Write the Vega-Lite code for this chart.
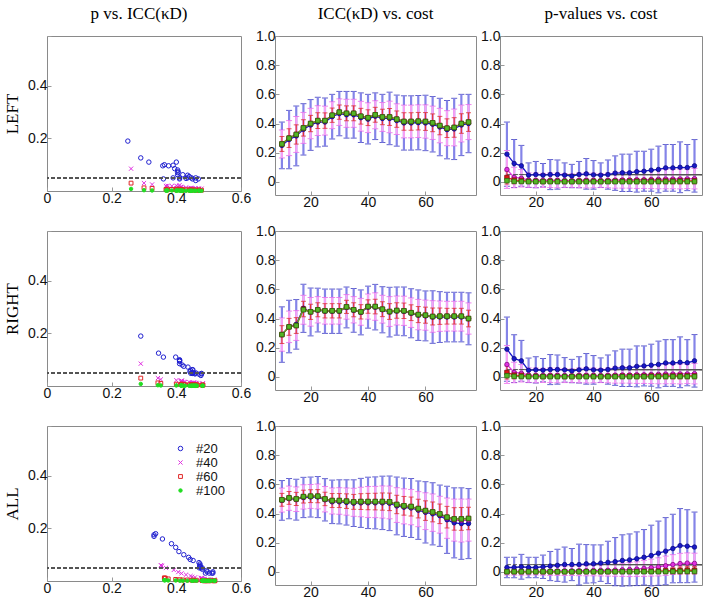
{
"$schema": "https://vega.github.io/schema/vega-lite/v6.json",
"padding": {"left": 3, "top": 4, "right": 0, "bottom": 0},
"background": "white",
"columns": 3,
"align": "each",
"spacing": {"row": 13, "column": 3},
"resolve": {"scale": {"color": "independent", "fill": "independent", "shape": "independent", "size": "independent", "stroke": "independent"}},
"data": {"values": [
{"r":"L","n":20,"c":10,"i":0.25,"ie":0.16,"p":0.19,"pe":0.22},
{"r":"L","n":20,"c":12.5,"i":0.29,"ie":0.2,"p":0.126,"pe":0.164},
{"r":"L","n":20,"c":15,"i":0.315,"ie":0.205,"p":0.11,"pe":0.14},
{"r":"L","n":20,"c":17.5,"i":0.36,"ie":0.176,"p":0.046,"pe":0.084},
{"r":"L","n":20,"c":20,"i":0.39,"ie":0.174,"p":0.05,"pe":0.09},
{"r":"L","n":20,"c":22.5,"i":0.41,"ie":0.17,"p":0.046,"pe":0.08},
{"r":"L","n":20,"c":25,"i":0.41,"ie":0.165,"p":0.05,"pe":0.103},
{"r":"L","n":20,"c":27.5,"i":0.447,"ie":0.153,"p":0.05,"pe":0.1},
{"r":"L","n":20,"c":30,"i":0.468,"ie":0.152,"p":0.046,"pe":0.084},
{"r":"L","n":20,"c":32.5,"i":0.46,"ie":0.16,"p":0.04,"pe":0.08},
{"r":"L","n":20,"c":35,"i":0.46,"ie":0.16,"p":0.05,"pe":0.09},
{"r":"L","n":20,"c":37.5,"i":0.44,"ie":0.17,"p":0.055,"pe":0.105},
{"r":"L","n":20,"c":40,"i":0.43,"ie":0.17,"p":0.048,"pe":0.098},
{"r":"L","n":20,"c":42.5,"i":0.45,"ie":0.16,"p":0.046,"pe":0.084},
{"r":"L","n":20,"c":45,"i":0.435,"ie":0.165,"p":0.05,"pe":0.1},
{"r":"L","n":20,"c":47.5,"i":0.435,"ie":0.18,"p":0.06,"pe":0.118},
{"r":"L","n":20,"c":50,"i":0.42,"ie":0.175,"p":0.062,"pe":0.128},
{"r":"L","n":20,"c":52.5,"i":0.404,"ie":0.186,"p":0.062,"pe":0.128},
{"r":"L","n":20,"c":55,"i":0.404,"ie":0.186,"p":0.07,"pe":0.14},
{"r":"L","n":20,"c":57.5,"i":0.406,"ie":0.186,"p":0.073,"pe":0.137},
{"r":"L","n":20,"c":60,"i":0.404,"ie":0.19,"p":0.08,"pe":0.144},
{"r":"L","n":20,"c":62.5,"i":0.395,"ie":0.19,"p":0.085,"pe":0.16},
{"r":"L","n":20,"c":65,"i":0.376,"ie":0.197,"p":0.096,"pe":0.16},
{"r":"L","n":20,"c":67.5,"i":0.358,"ie":0.2,"p":0.096,"pe":0.16},
{"r":"L","n":20,"c":70,"i":0.363,"ie":0.21,"p":0.1,"pe":0.174},
{"r":"L","n":20,"c":72.5,"i":0.39,"ie":0.21,"p":0.098,"pe":0.158},
{"r":"L","n":20,"c":75,"i":0.4,"ie":0.2,"p":0.11,"pe":0.18},
{"r":"L","n":40,"c":10,"i":0.26,"ie":0.096,"p":0.085,"pe":0.13},
{"r":"L","n":40,"c":12.5,"i":0.3,"ie":0.12,"p":0.03,"pe":0.07},
{"r":"L","n":40,"c":15,"i":0.325,"ie":0.123,"p":0.025,"pe":0.06},
{"r":"L","n":40,"c":17.5,"i":0.37,"ie":0.106,"p":0.012,"pe":0.05},
{"r":"L","n":40,"c":20,"i":0.4,"ie":0.104,"p":0.01,"pe":0.05},
{"r":"L","n":40,"c":22.5,"i":0.42,"ie":0.102,"p":0.01,"pe":0.048},
{"r":"L","n":40,"c":25,"i":0.42,"ie":0.099,"p":0.011,"pe":0.05},
{"r":"L","n":40,"c":27.5,"i":0.457,"ie":0.092,"p":0.01,"pe":0.05},
{"r":"L","n":40,"c":30,"i":0.478,"ie":0.091,"p":0.009,"pe":0.048},
{"r":"L","n":40,"c":32.5,"i":0.47,"ie":0.096,"p":0.008,"pe":0.046},
{"r":"L","n":40,"c":35,"i":0.47,"ie":0.096,"p":0.01,"pe":0.05},
{"r":"L","n":40,"c":37.5,"i":0.45,"ie":0.102,"p":0.011,"pe":0.052},
{"r":"L","n":40,"c":40,"i":0.44,"ie":0.102,"p":0.01,"pe":0.05},
{"r":"L","n":40,"c":42.5,"i":0.46,"ie":0.096,"p":0.009,"pe":0.048},
{"r":"L","n":40,"c":45,"i":0.445,"ie":0.099,"p":0.01,"pe":0.05},
{"r":"L","n":40,"c":47.5,"i":0.445,"ie":0.108,"p":0.012,"pe":0.055},
{"r":"L","n":40,"c":50,"i":0.43,"ie":0.105,"p":0.013,"pe":0.056},
{"r":"L","n":40,"c":52.5,"i":0.414,"ie":0.112,"p":0.013,"pe":0.056},
{"r":"L","n":40,"c":55,"i":0.414,"ie":0.112,"p":0.015,"pe":0.06},
{"r":"L","n":40,"c":57.5,"i":0.416,"ie":0.112,"p":0.015,"pe":0.06},
{"r":"L","n":40,"c":60,"i":0.414,"ie":0.114,"p":0.016,"pe":0.062},
{"r":"L","n":40,"c":62.5,"i":0.405,"ie":0.114,"p":0.017,"pe":0.064},
{"r":"L","n":40,"c":65,"i":0.386,"ie":0.118,"p":0.019,"pe":0.066},
{"r":"L","n":40,"c":67.5,"i":0.368,"ie":0.12,"p":0.019,"pe":0.066},
{"r":"L","n":40,"c":70,"i":0.373,"ie":0.126,"p":0.02,"pe":0.068},
{"r":"L","n":40,"c":72.5,"i":0.4,"ie":0.126,"p":0.02,"pe":0.066},
{"r":"L","n":40,"c":75,"i":0.41,"ie":0.12,"p":0.022,"pe":0.07},
{"r":"L","n":60,"c":10,"i":0.26,"ie":0.051,"p":0.03,"pe":0.045},
{"r":"L","n":60,"c":12.5,"i":0.3,"ie":0.064,"p":0.012,"pe":0.025},
{"r":"L","n":60,"c":15,"i":0.325,"ie":0.066,"p":0.01,"pe":0.02},
{"r":"L","n":60,"c":17.5,"i":0.37,"ie":0.056,"p":0.004,"pe":0.015},
{"r":"L","n":60,"c":20,"i":0.4,"ie":0.056,"p":0.004,"pe":0.014},
{"r":"L","n":60,"c":22.5,"i":0.42,"ie":0.054,"p":0.003,"pe":0.013},
{"r":"L","n":60,"c":25,"i":0.42,"ie":0.053,"p":0.004,"pe":0.014},
{"r":"L","n":60,"c":27.5,"i":0.457,"ie":0.049,"p":0.004,"pe":0.014},
{"r":"L","n":60,"c":30,"i":0.478,"ie":0.049,"p":0.003,"pe":0.013},
{"r":"L","n":60,"c":32.5,"i":0.47,"ie":0.051,"p":0.003,"pe":0.012},
{"r":"L","n":60,"c":35,"i":0.47,"ie":0.051,"p":0.004,"pe":0.014},
{"r":"L","n":60,"c":37.5,"i":0.45,"ie":0.054,"p":0.004,"pe":0.014},
{"r":"L","n":60,"c":40,"i":0.44,"ie":0.054,"p":0.004,"pe":0.014},
{"r":"L","n":60,"c":42.5,"i":0.46,"ie":0.051,"p":0.003,"pe":0.013},
{"r":"L","n":60,"c":45,"i":0.445,"ie":0.053,"p":0.004,"pe":0.014},
{"r":"L","n":60,"c":47.5,"i":0.445,"ie":0.058,"p":0.004,"pe":0.015},
{"r":"L","n":60,"c":50,"i":0.43,"ie":0.056,"p":0.005,"pe":0.016},
{"r":"L","n":60,"c":52.5,"i":0.414,"ie":0.06,"p":0.005,"pe":0.016},
{"r":"L","n":60,"c":55,"i":0.414,"ie":0.06,"p":0.005,"pe":0.017},
{"r":"L","n":60,"c":57.5,"i":0.416,"ie":0.06,"p":0.005,"pe":0.017},
{"r":"L","n":60,"c":60,"i":0.414,"ie":0.061,"p":0.006,"pe":0.018},
{"r":"L","n":60,"c":62.5,"i":0.405,"ie":0.061,"p":0.006,"pe":0.018},
{"r":"L","n":60,"c":65,"i":0.386,"ie":0.063,"p":0.006,"pe":0.019},
{"r":"L","n":60,"c":67.5,"i":0.368,"ie":0.064,"p":0.006,"pe":0.019},
{"r":"L","n":60,"c":70,"i":0.373,"ie":0.067,"p":0.007,"pe":0.02},
{"r":"L","n":60,"c":72.5,"i":0.4,"ie":0.067,"p":0.007,"pe":0.02},
{"r":"L","n":60,"c":75,"i":0.41,"ie":0.064,"p":0.007,"pe":0.02},
{"r":"L","n":100,"c":10,"i":0.26,"p":0.008},
{"r":"L","n":100,"c":12.5,"i":0.3,"p":0.003},
{"r":"L","n":100,"c":15,"i":0.325,"p":0.002},
{"r":"L","n":100,"c":17.5,"i":0.37,"p":0.001},
{"r":"L","n":100,"c":20,"i":0.4,"p":0.001},
{"r":"L","n":100,"c":22.5,"i":0.42,"p":0.001},
{"r":"L","n":100,"c":25,"i":0.42,"p":0.001},
{"r":"L","n":100,"c":27.5,"i":0.457,"p":0.001},
{"r":"L","n":100,"c":30,"i":0.478,"p":0.001},
{"r":"L","n":100,"c":32.5,"i":0.47,"p":0.001},
{"r":"L","n":100,"c":35,"i":0.47,"p":0.001},
{"r":"L","n":100,"c":37.5,"i":0.45,"p":0.001},
{"r":"L","n":100,"c":40,"i":0.44,"p":0.001},
{"r":"L","n":100,"c":42.5,"i":0.46,"p":0.001},
{"r":"L","n":100,"c":45,"i":0.445,"p":0.001},
{"r":"L","n":100,"c":47.5,"i":0.445,"p":0.001},
{"r":"L","n":100,"c":50,"i":0.43,"p":0.001},
{"r":"L","n":100,"c":52.5,"i":0.414,"p":0.001},
{"r":"L","n":100,"c":55,"i":0.414,"p":0.001},
{"r":"L","n":100,"c":57.5,"i":0.416,"p":0.001},
{"r":"L","n":100,"c":60,"i":0.414,"p":0.001},
{"r":"L","n":100,"c":62.5,"i":0.405,"p":0.002},
{"r":"L","n":100,"c":65,"i":0.386,"p":0.002},
{"r":"L","n":100,"c":67.5,"i":0.368,"p":0.002},
{"r":"L","n":100,"c":70,"i":0.373,"p":0.002},
{"r":"L","n":100,"c":72.5,"i":0.4,"p":0.002},
{"r":"L","n":100,"c":75,"i":0.41,"p":0.002},
{"r":"R","n":20,"c":10,"i":0.29,"ie":0.19,"p":0.19,"pe":0.22},
{"r":"R","n":20,"c":12.5,"i":0.345,"ie":0.18,"p":0.125,"pe":0.164},
{"r":"R","n":20,"c":15,"i":0.36,"ie":0.17,"p":0.11,"pe":0.14},
{"r":"R","n":20,"c":17.5,"i":0.47,"ie":0.165,"p":0.045,"pe":0.084},
{"r":"R","n":20,"c":20,"i":0.445,"ie":0.164,"p":0.048,"pe":0.09},
{"r":"R","n":20,"c":22.5,"i":0.458,"ie":0.15,"p":0.046,"pe":0.08},
{"r":"R","n":20,"c":25,"i":0.45,"ie":0.152,"p":0.05,"pe":0.103},
{"r":"R","n":20,"c":27.5,"i":0.45,"ie":0.152,"p":0.05,"pe":0.1},
{"r":"R","n":20,"c":30,"i":0.45,"ie":0.152,"p":0.048,"pe":0.084},
{"r":"R","n":20,"c":32.5,"i":0.476,"ie":0.14,"p":0.04,"pe":0.08},
{"r":"R","n":20,"c":35,"i":0.456,"ie":0.15,"p":0.048,"pe":0.09},
{"r":"R","n":20,"c":37.5,"i":0.442,"ie":0.154,"p":0.055,"pe":0.105},
{"r":"R","n":20,"c":40,"i":0.478,"ie":0.144,"p":0.048,"pe":0.098},
{"r":"R","n":20,"c":42.5,"i":0.478,"ie":0.156,"p":0.046,"pe":0.084},
{"r":"R","n":20,"c":45,"i":0.46,"ie":0.158,"p":0.05,"pe":0.1},
{"r":"R","n":20,"c":47.5,"i":0.444,"ie":0.17,"p":0.06,"pe":0.118},
{"r":"R","n":20,"c":50,"i":0.451,"ie":0.165,"p":0.062,"pe":0.128},
{"r":"R","n":20,"c":52.5,"i":0.449,"ie":0.167,"p":0.062,"pe":0.128},
{"r":"R","n":20,"c":55,"i":0.436,"ie":0.168,"p":0.072,"pe":0.14},
{"r":"R","n":20,"c":57.5,"i":0.423,"ie":0.173,"p":0.075,"pe":0.137},
{"r":"R","n":20,"c":60,"i":0.418,"ie":0.171,"p":0.08,"pe":0.144},
{"r":"R","n":20,"c":62.5,"i":0.41,"ie":0.18,"p":0.085,"pe":0.16},
{"r":"R","n":20,"c":65,"i":0.41,"ie":0.174,"p":0.095,"pe":0.16},
{"r":"R","n":20,"c":67.5,"i":0.41,"ie":0.17,"p":0.095,"pe":0.16},
{"r":"R","n":20,"c":70,"i":0.41,"ie":0.17,"p":0.1,"pe":0.174},
{"r":"R","n":20,"c":72.5,"i":0.41,"ie":0.17,"p":0.097,"pe":0.158},
{"r":"R","n":20,"c":75,"i":0.398,"ie":0.178,"p":0.11,"pe":0.18},
{"r":"R","n":40,"c":10,"i":0.29,"ie":0.114,"p":0.085,"pe":0.13},
{"r":"R","n":40,"c":12.5,"i":0.343,"ie":0.108,"p":0.03,"pe":0.07},
{"r":"R","n":40,"c":15,"i":0.352,"ie":0.102,"p":0.025,"pe":0.06},
{"r":"R","n":40,"c":17.5,"i":0.46,"ie":0.099,"p":0.012,"pe":0.05},
{"r":"R","n":40,"c":20,"i":0.446,"ie":0.098,"p":0.01,"pe":0.05},
{"r":"R","n":40,"c":22.5,"i":0.46,"ie":0.09,"p":0.01,"pe":0.048},
{"r":"R","n":40,"c":25,"i":0.453,"ie":0.091,"p":0.011,"pe":0.05},
{"r":"R","n":40,"c":27.5,"i":0.453,"ie":0.091,"p":0.01,"pe":0.05},
{"r":"R","n":40,"c":30,"i":0.453,"ie":0.091,"p":0.009,"pe":0.048},
{"r":"R","n":40,"c":32.5,"i":0.48,"ie":0.084,"p":0.008,"pe":0.046},
{"r":"R","n":40,"c":35,"i":0.46,"ie":0.09,"p":0.01,"pe":0.05},
{"r":"R","n":40,"c":37.5,"i":0.446,"ie":0.092,"p":0.011,"pe":0.052},
{"r":"R","n":40,"c":40,"i":0.482,"ie":0.086,"p":0.01,"pe":0.05},
{"r":"R","n":40,"c":42.5,"i":0.482,"ie":0.094,"p":0.009,"pe":0.048},
{"r":"R","n":40,"c":45,"i":0.464,"ie":0.095,"p":0.01,"pe":0.05},
{"r":"R","n":40,"c":47.5,"i":0.448,"ie":0.102,"p":0.012,"pe":0.055},
{"r":"R","n":40,"c":50,"i":0.455,"ie":0.099,"p":0.013,"pe":0.056},
{"r":"R","n":40,"c":52.5,"i":0.453,"ie":0.1,"p":0.013,"pe":0.056},
{"r":"R","n":40,"c":55,"i":0.44,"ie":0.101,"p":0.015,"pe":0.06},
{"r":"R","n":40,"c":57.5,"i":0.427,"ie":0.104,"p":0.015,"pe":0.06},
{"r":"R","n":40,"c":60,"i":0.423,"ie":0.103,"p":0.016,"pe":0.062},
{"r":"R","n":40,"c":62.5,"i":0.414,"ie":0.108,"p":0.017,"pe":0.064},
{"r":"R","n":40,"c":65,"i":0.416,"ie":0.104,"p":0.019,"pe":0.066},
{"r":"R","n":40,"c":67.5,"i":0.416,"ie":0.102,"p":0.019,"pe":0.066},
{"r":"R","n":40,"c":70,"i":0.416,"ie":0.102,"p":0.02,"pe":0.068},
{"r":"R","n":40,"c":72.5,"i":0.416,"ie":0.102,"p":0.02,"pe":0.066},
{"r":"R","n":40,"c":75,"i":0.4,"ie":0.107,"p":0.022,"pe":0.07},
{"r":"R","n":60,"c":10,"i":0.29,"ie":0.061,"p":0.03,"pe":0.045},
{"r":"R","n":60,"c":12.5,"i":0.343,"ie":0.058,"p":0.012,"pe":0.025},
{"r":"R","n":60,"c":15,"i":0.352,"ie":0.054,"p":0.01,"pe":0.02},
{"r":"R","n":60,"c":17.5,"i":0.465,"ie":0.053,"p":0.004,"pe":0.015},
{"r":"R","n":60,"c":20,"i":0.446,"ie":0.052,"p":0.004,"pe":0.014},
{"r":"R","n":60,"c":22.5,"i":0.46,"ie":0.048,"p":0.003,"pe":0.013},
{"r":"R","n":60,"c":25,"i":0.453,"ie":0.049,"p":0.004,"pe":0.014},
{"r":"R","n":60,"c":27.5,"i":0.453,"ie":0.049,"p":0.004,"pe":0.014},
{"r":"R","n":60,"c":30,"i":0.453,"ie":0.049,"p":0.003,"pe":0.013},
{"r":"R","n":60,"c":32.5,"i":0.48,"ie":0.045,"p":0.003,"pe":0.012},
{"r":"R","n":60,"c":35,"i":0.46,"ie":0.048,"p":0.004,"pe":0.014},
{"r":"R","n":60,"c":37.5,"i":0.446,"ie":0.049,"p":0.004,"pe":0.014},
{"r":"R","n":60,"c":40,"i":0.482,"ie":0.046,"p":0.004,"pe":0.014},
{"r":"R","n":60,"c":42.5,"i":0.482,"ie":0.05,"p":0.003,"pe":0.013},
{"r":"R","n":60,"c":45,"i":0.464,"ie":0.051,"p":0.004,"pe":0.014},
{"r":"R","n":60,"c":47.5,"i":0.448,"ie":0.054,"p":0.004,"pe":0.015},
{"r":"R","n":60,"c":50,"i":0.455,"ie":0.053,"p":0.005,"pe":0.016},
{"r":"R","n":60,"c":52.5,"i":0.453,"ie":0.053,"p":0.005,"pe":0.016},
{"r":"R","n":60,"c":55,"i":0.44,"ie":0.054,"p":0.005,"pe":0.017},
{"r":"R","n":60,"c":57.5,"i":0.427,"ie":0.055,"p":0.005,"pe":0.017},
{"r":"R","n":60,"c":60,"i":0.423,"ie":0.055,"p":0.006,"pe":0.018},
{"r":"R","n":60,"c":62.5,"i":0.414,"ie":0.058,"p":0.006,"pe":0.018},
{"r":"R","n":60,"c":65,"i":0.416,"ie":0.056,"p":0.006,"pe":0.019},
{"r":"R","n":60,"c":67.5,"i":0.416,"ie":0.054,"p":0.006,"pe":0.019},
{"r":"R","n":60,"c":70,"i":0.416,"ie":0.054,"p":0.007,"pe":0.02},
{"r":"R","n":60,"c":72.5,"i":0.416,"ie":0.054,"p":0.007,"pe":0.02},
{"r":"R","n":60,"c":75,"i":0.4,"ie":0.057,"p":0.007,"pe":0.02},
{"r":"R","n":100,"c":10,"i":0.29,"p":0.008},
{"r":"R","n":100,"c":12.5,"i":0.343,"p":0.003},
{"r":"R","n":100,"c":15,"i":0.352,"p":0.002},
{"r":"R","n":100,"c":17.5,"i":0.46,"p":0.001},
{"r":"R","n":100,"c":20,"i":0.446,"p":0.001},
{"r":"R","n":100,"c":22.5,"i":0.46,"p":0.001},
{"r":"R","n":100,"c":25,"i":0.453,"p":0.001},
{"r":"R","n":100,"c":27.5,"i":0.453,"p":0.001},
{"r":"R","n":100,"c":30,"i":0.453,"p":0.001},
{"r":"R","n":100,"c":32.5,"i":0.48,"p":0.001},
{"r":"R","n":100,"c":35,"i":0.46,"p":0.001},
{"r":"R","n":100,"c":37.5,"i":0.446,"p":0.001},
{"r":"R","n":100,"c":40,"i":0.482,"p":0.001},
{"r":"R","n":100,"c":42.5,"i":0.482,"p":0.001},
{"r":"R","n":100,"c":45,"i":0.464,"p":0.001},
{"r":"R","n":100,"c":47.5,"i":0.448,"p":0.001},
{"r":"R","n":100,"c":50,"i":0.455,"p":0.001},
{"r":"R","n":100,"c":52.5,"i":0.453,"p":0.001},
{"r":"R","n":100,"c":55,"i":0.44,"p":0.001},
{"r":"R","n":100,"c":57.5,"i":0.427,"p":0.001},
{"r":"R","n":100,"c":60,"i":0.423,"p":0.001},
{"r":"R","n":100,"c":62.5,"i":0.414,"p":0.002},
{"r":"R","n":100,"c":65,"i":0.416,"p":0.002},
{"r":"R","n":100,"c":67.5,"i":0.416,"p":0.002},
{"r":"R","n":100,"c":70,"i":0.416,"p":0.002},
{"r":"R","n":100,"c":72.5,"i":0.416,"p":0.002},
{"r":"R","n":100,"c":75,"i":0.4,"p":0.002},
{"r":"A","n":20,"c":10,"i":0.49,"ie":0.136,"p":0.03,"pe":0.07},
{"r":"A","n":20,"c":12.5,"i":0.502,"ie":0.138,"p":0.03,"pe":0.07},
{"r":"A","n":20,"c":15,"i":0.495,"ie":0.14,"p":0.035,"pe":0.085},
{"r":"A","n":20,"c":17.5,"i":0.51,"ie":0.138,"p":0.03,"pe":0.07},
{"r":"A","n":20,"c":20,"i":0.513,"ie":0.137,"p":0.03,"pe":0.07},
{"r":"A","n":20,"c":22.5,"i":0.513,"ie":0.141,"p":0.035,"pe":0.08},
{"r":"A","n":20,"c":25,"i":0.494,"ie":0.145,"p":0.04,"pe":0.1},
{"r":"A","n":20,"c":27.5,"i":0.48,"ie":0.149,"p":0.045,"pe":0.11},
{"r":"A","n":20,"c":30,"i":0.48,"ie":0.151,"p":0.05,"pe":0.12},
{"r":"A","n":20,"c":32.5,"i":0.476,"ie":0.155,"p":0.05,"pe":0.11},
{"r":"A","n":20,"c":35,"i":0.471,"ie":0.16,"p":0.05,"pe":0.14},
{"r":"A","n":20,"c":37.5,"i":0.473,"ie":0.168,"p":0.055,"pe":0.132},
{"r":"A","n":20,"c":40,"i":0.473,"ie":0.176,"p":0.055,"pe":0.13},
{"r":"A","n":20,"c":42.5,"i":0.473,"ie":0.178,"p":0.06,"pe":0.125},
{"r":"A","n":20,"c":45,"i":0.473,"ie":0.183,"p":0.065,"pe":0.145},
{"r":"A","n":20,"c":47.5,"i":0.47,"ie":0.187,"p":0.07,"pe":0.165},
{"r":"A","n":20,"c":50,"i":0.452,"ie":0.198,"p":0.078,"pe":0.176},
{"r":"A","n":20,"c":52.5,"i":0.443,"ie":0.2,"p":0.082,"pe":0.178},
{"r":"A","n":20,"c":55,"i":0.438,"ie":0.202,"p":0.09,"pe":0.184},
{"r":"A","n":20,"c":57.5,"i":0.423,"ie":0.2,"p":0.1,"pe":0.19},
{"r":"A","n":20,"c":60,"i":0.408,"ie":0.21,"p":0.112,"pe":0.208},
{"r":"A","n":20,"c":62.5,"i":0.398,"ie":0.213,"p":0.128,"pe":0.22},
{"r":"A","n":20,"c":65,"i":0.385,"ie":0.21,"p":0.142,"pe":0.23},
{"r":"A","n":20,"c":67.5,"i":0.357,"ie":0.23,"p":0.16,"pe":0.235},
{"r":"A","n":20,"c":70,"i":0.336,"ie":0.24,"p":0.18,"pe":0.254},
{"r":"A","n":20,"c":72.5,"i":0.331,"ie":0.245,"p":0.176,"pe":0.25},
{"r":"A","n":20,"c":75,"i":0.331,"ie":0.24,"p":0.17,"pe":0.24},
{"r":"A","n":40,"c":10,"i":0.492,"ie":0.082,"p":0.004,"pe":0.025},
{"r":"A","n":40,"c":12.5,"i":0.505,"ie":0.083,"p":0.004,"pe":0.025},
{"r":"A","n":40,"c":15,"i":0.498,"ie":0.084,"p":0.005,"pe":0.027},
{"r":"A","n":40,"c":17.5,"i":0.514,"ie":0.083,"p":0.004,"pe":0.025},
{"r":"A","n":40,"c":20,"i":0.517,"ie":0.082,"p":0.004,"pe":0.025},
{"r":"A","n":40,"c":22.5,"i":0.517,"ie":0.085,"p":0.005,"pe":0.027},
{"r":"A","n":40,"c":25,"i":0.498,"ie":0.087,"p":0.006,"pe":0.03},
{"r":"A","n":40,"c":27.5,"i":0.486,"ie":0.089,"p":0.006,"pe":0.03},
{"r":"A","n":40,"c":30,"i":0.486,"ie":0.091,"p":0.007,"pe":0.032},
{"r":"A","n":40,"c":32.5,"i":0.482,"ie":0.093,"p":0.007,"pe":0.032},
{"r":"A","n":40,"c":35,"i":0.477,"ie":0.096,"p":0.008,"pe":0.034},
{"r":"A","n":40,"c":37.5,"i":0.479,"ie":0.101,"p":0.008,"pe":0.035},
{"r":"A","n":40,"c":40,"i":0.479,"ie":0.106,"p":0.009,"pe":0.036},
{"r":"A","n":40,"c":42.5,"i":0.479,"ie":0.107,"p":0.01,"pe":0.038},
{"r":"A","n":40,"c":45,"i":0.479,"ie":0.11,"p":0.011,"pe":0.04},
{"r":"A","n":40,"c":47.5,"i":0.476,"ie":0.112,"p":0.012,"pe":0.042},
{"r":"A","n":40,"c":50,"i":0.458,"ie":0.119,"p":0.014,"pe":0.045},
{"r":"A","n":40,"c":52.5,"i":0.449,"ie":0.12,"p":0.016,"pe":0.048},
{"r":"A","n":40,"c":55,"i":0.444,"ie":0.121,"p":0.019,"pe":0.05},
{"r":"A","n":40,"c":57.5,"i":0.43,"ie":0.12,"p":0.024,"pe":0.055},
{"r":"A","n":40,"c":60,"i":0.416,"ie":0.126,"p":0.029,"pe":0.058},
{"r":"A","n":40,"c":62.5,"i":0.406,"ie":0.128,"p":0.034,"pe":0.062},
{"r":"A","n":40,"c":65,"i":0.392,"ie":0.126,"p":0.042,"pe":0.066},
{"r":"A","n":40,"c":67.5,"i":0.368,"ie":0.138,"p":0.05,"pe":0.068},
{"r":"A","n":40,"c":70,"i":0.355,"ie":0.144,"p":0.057,"pe":0.07},
{"r":"A","n":40,"c":72.5,"i":0.352,"ie":0.147,"p":0.06,"pe":0.07},
{"r":"A","n":40,"c":75,"i":0.355,"ie":0.144,"p":0.058,"pe":0.07},
{"r":"A","n":60,"c":10,"i":0.494,"ie":0.044,"p":0.001,"pe":0.006},
{"r":"A","n":60,"c":12.5,"i":0.507,"ie":0.044,"p":0.001,"pe":0.006},
{"r":"A","n":60,"c":15,"i":0.5,"ie":0.045,"p":0.001,"pe":0.006},
{"r":"A","n":60,"c":17.5,"i":0.516,"ie":0.044,"p":0.001,"pe":0.006},
{"r":"A","n":60,"c":20,"i":0.519,"ie":0.044,"p":0.001,"pe":0.006},
{"r":"A","n":60,"c":22.5,"i":0.519,"ie":0.045,"p":0.001,"pe":0.006},
{"r":"A","n":60,"c":25,"i":0.5,"ie":0.046,"p":0.001,"pe":0.006},
{"r":"A","n":60,"c":27.5,"i":0.489,"ie":0.048,"p":0.001,"pe":0.006},
{"r":"A","n":60,"c":30,"i":0.489,"ie":0.048,"p":0.001,"pe":0.007},
{"r":"A","n":60,"c":32.5,"i":0.485,"ie":0.05,"p":0.001,"pe":0.007},
{"r":"A","n":60,"c":35,"i":0.48,"ie":0.051,"p":0.002,"pe":0.008},
{"r":"A","n":60,"c":37.5,"i":0.482,"ie":0.054,"p":0.002,"pe":0.008},
{"r":"A","n":60,"c":40,"i":0.482,"ie":0.056,"p":0.002,"pe":0.008},
{"r":"A","n":60,"c":42.5,"i":0.482,"ie":0.057,"p":0.002,"pe":0.008},
{"r":"A","n":60,"c":45,"i":0.482,"ie":0.059,"p":0.002,"pe":0.009},
{"r":"A","n":60,"c":47.5,"i":0.48,"ie":0.06,"p":0.002,"pe":0.009},
{"r":"A","n":60,"c":50,"i":0.462,"ie":0.063,"p":0.003,"pe":0.01},
{"r":"A","n":60,"c":52.5,"i":0.453,"ie":0.064,"p":0.003,"pe":0.011},
{"r":"A","n":60,"c":55,"i":0.448,"ie":0.065,"p":0.003,"pe":0.012},
{"r":"A","n":60,"c":57.5,"i":0.434,"ie":0.064,"p":0.004,"pe":0.013},
{"r":"A","n":60,"c":60,"i":0.42,"ie":0.067,"p":0.004,"pe":0.014},
{"r":"A","n":60,"c":62.5,"i":0.411,"ie":0.068,"p":0.005,"pe":0.016},
{"r":"A","n":60,"c":65,"i":0.398,"ie":0.067,"p":0.006,"pe":0.018},
{"r":"A","n":60,"c":67.5,"i":0.375,"ie":0.074,"p":0.008,"pe":0.02},
{"r":"A","n":60,"c":70,"i":0.363,"ie":0.077,"p":0.01,"pe":0.024},
{"r":"A","n":60,"c":72.5,"i":0.363,"ie":0.078,"p":0.012,"pe":0.026},
{"r":"A","n":60,"c":75,"i":0.366,"ie":0.077,"p":0.011,"pe":0.025},
{"r":"A","n":100,"c":10,"i":0.494,"p":0.001},
{"r":"A","n":100,"c":12.5,"i":0.507,"p":0.001},
{"r":"A","n":100,"c":15,"i":0.5,"p":0.001},
{"r":"A","n":100,"c":17.5,"i":0.516,"p":0.001},
{"r":"A","n":100,"c":20,"i":0.519,"p":0.001},
{"r":"A","n":100,"c":22.5,"i":0.519,"p":0.001},
{"r":"A","n":100,"c":25,"i":0.5,"p":0.001},
{"r":"A","n":100,"c":27.5,"i":0.489,"p":0.001},
{"r":"A","n":100,"c":30,"i":0.489,"p":0.001},
{"r":"A","n":100,"c":32.5,"i":0.485,"p":0.001},
{"r":"A","n":100,"c":35,"i":0.48,"p":0.001},
{"r":"A","n":100,"c":37.5,"i":0.482,"p":0.001},
{"r":"A","n":100,"c":40,"i":0.482,"p":0.001},
{"r":"A","n":100,"c":42.5,"i":0.482,"p":0.001},
{"r":"A","n":100,"c":45,"i":0.482,"p":0.001},
{"r":"A","n":100,"c":47.5,"i":0.48,"p":0.001},
{"r":"A","n":100,"c":50,"i":0.462,"p":0.001},
{"r":"A","n":100,"c":52.5,"i":0.453,"p":0.001},
{"r":"A","n":100,"c":55,"i":0.448,"p":0.001},
{"r":"A","n":100,"c":57.5,"i":0.434,"p":0.001},
{"r":"A","n":100,"c":60,"i":0.42,"p":0.001},
{"r":"A","n":100,"c":62.5,"i":0.411,"p":0.001},
{"r":"A","n":100,"c":65,"i":0.398,"p":0.002},
{"r":"A","n":100,"c":67.5,"i":0.375,"p":0.002},
{"r":"A","n":100,"c":70,"i":0.363,"p":0.003},
{"r":"A","n":100,"c":72.5,"i":0.363,"p":0.003},
{"r":"A","n":100,"c":75,"i":0.366,"p":0.003}
]},
"concat": [
{
 "width": 194, "height": 155,
 "title": {"text": "p vs. ICC(κD)", "frame": "group", "dx": -5},
 "transform": [{"filter": "datum.r=='L'"}],
 "layer": [
  {"mark": {"type": "point", "strokeWidth": 1, "opacity": 1},
   "encoding": {
    "x": {"field": "i", "type": "quantitative", "scale": {"domain": [0, 0.6], "nice": false, "zero": false}, "axis": {"values": [0, 0.2, 0.4, 0.6], "labelExpr": "datum.value==0?'0':format(datum.value,'.1f')", "title": null}},
    "y": {"field": "p", "type": "quantitative", "scale": {"domain": [0, 0.59], "nice": false}, "axis": {"values": [0.2, 0.4, 0.59], "labelExpr": "datum.value>0.5?' ':format(datum.value,'.1f')", "title": "LEFT"}},
    "stroke": {"field": "n", "type": "nominal", "scale": {"domain": [20, 40, 60, 100], "range": ["#2020d0", "#e030e0", "#e02828", "#22dd22"]}, "legend": null},
    "fill": {"field": "n", "type": "nominal", "scale": {"domain": [20, 40, 60, 100], "range": ["transparent", "transparent", "transparent", "#22dd22"]}, "legend": null},
    "shape": {"field": "n", "type": "nominal", "scale": {"domain": [20, 40, 60, 100], "range": ["circle", "M-1,-1L1,1M-1,1L1,-1", "square", "circle"]}, "legend": null},
    "size": {"field": "n", "type": "nominal", "scale": {"domain": [20, 40, 60, 100], "range": [20, 12, 16, 10]}, "legend": null}
   }},
  {"mark": {"type": "rule", "strokeDash": [4, 2], "color": "#555", "strokeWidth": 0.9},
   "encoding": {"y": {"datum": 0.05, "type": "quantitative", "title": "LEFT"}}}
 ]
},
{
 "width": 201, "height": 159,
 "title": {"text": "ICC(κD) vs. cost"},
 "transform": [{"filter": "datum.r=='L'"}],
 "encoding": {
  "x": {"field": "c", "type": "quantitative", "scale": {"domain": [7.6, 77.6], "nice": false, "zero": false}, "axis": {"values": [20, 40, 60], "format": "d", "title": null}},
  "y": {"field": "i", "type": "quantitative", "scale": {"domain": [-0.09, 1], "nice": false, "zero": false}, "axis": {"values": [0, 0.2, 0.4, 0.6, 0.8, 1], "labelExpr": "datum.value==0?'0':format(datum.value,'.1f')", "title": null}}
 },
 "layer": [
  {"transform": [{"filter": "datum.n==20"}], "mark": {"type": "errorbar", "ticks": {"size": 6, "color": "#1c1cb4", "strokeWidth": 1.5}, "rule": {"color": "#8484e8", "strokeWidth": 2.2}}, "encoding": {"yError": {"field": "ie"}}},
  {"transform": [{"filter": "datum.n==40"}], "mark": {"type": "errorbar", "ticks": {"size": 6, "color": "#e850e8", "strokeWidth": 1.5}, "rule": {"color": "#f5a0f5", "strokeWidth": 2.2}}, "encoding": {"yError": {"field": "ie"}}},
  {"transform": [{"filter": "datum.n==60"}], "mark": {"type": "errorbar", "ticks": {"size": 5, "color": "#d81818", "strokeWidth": 1.3}, "rule": {"color": "#e03838", "strokeWidth": 1.2}}, "encoding": {"yError": {"field": "ie"}}},
  {"mark": {"type": "line", "strokeWidth": 1.3}, "encoding": {"color": {"field": "n", "type": "nominal", "scale": {"domain": [20, 40, 60, 100], "range": ["#1818c8", "#e030e0", "#dd1515", "#55b525"]}, "legend": null}}},
  {"mark": {"type": "point", "filled": true, "size": 20, "opacity": 1, "strokeWidth": 0.8}, "encoding": {
    "color": {"field": "n", "type": "nominal", "scale": {"domain": [20, 40, 60, 100], "range": ["#1818c8", "#e030e0", "#dd1515", "#66c22a"]}, "legend": null},
    "shape": {"field": "n", "type": "nominal", "scale": {"domain": [20, 40, 60, 100], "range": ["circle", "circle", "square", "square"]}, "legend": null},
    "stroke": {"field": "n", "type": "nominal", "scale": {"domain": [20, 40, 60, 100], "range": ["#0a0a80", "#800a80", "#800a0a", "#2c6a10"]}, "legend": null}}}
 ]
},
{
 "width": 202, "height": 159,
 "title": {"text": "p-values vs. cost"},
 "transform": [{"filter": "datum.r=='L'"}],
 "encoding": {
  "x": {"field": "c", "type": "quantitative", "scale": {"domain": [7.6, 77.6], "nice": false, "zero": false}, "axis": {"values": [20, 40, 60], "format": "d", "title": null, "labelOverlap": false}},
  "y": {"field": "p", "type": "quantitative", "scale": {"domain": [-0.09, 1], "nice": false, "zero": false}, "axis": {"values": [0, 0.2, 0.4, 0.6, 0.8, 1], "labelExpr": "datum.value==0?'0':format(datum.value,'.1f')", "title": null, "labelOverlap": false}}
 },
 "layer": [
  {"transform": [{"filter": "datum.n==20"}], "mark": {"type": "errorbar", "ticks": {"size": 6, "color": "#1c1cb4", "strokeWidth": 1.5}, "rule": {"color": "#8484e8", "strokeWidth": 2.2}}, "encoding": {"yError": {"field": "pe"}}},
  {"transform": [{"filter": "datum.n==40"}], "mark": {"type": "errorbar", "ticks": {"size": 6, "color": "#e850e8", "strokeWidth": 1.5}, "rule": {"color": "#f5a0f5", "strokeWidth": 2.2}}, "encoding": {"yError": {"field": "pe"}}},
  {"transform": [{"filter": "datum.n==60"}], "mark": {"type": "errorbar", "ticks": {"size": 5, "color": "#d81818", "strokeWidth": 1.3}, "rule": {"color": "#e03838", "strokeWidth": 1.2}}, "encoding": {"yError": {"field": "pe"}}},
  {"transform": [{"filter": "datum.n==20"}], "mark": {"type": "rule", "strokeDash": [4, 2], "color": "#555", "strokeWidth": 0.9}, "encoding": {"x": {"aggregate": "min", "field": "c", "type": "quantitative", "scale": {"domain": [7.6, 77.6], "nice": false, "zero": false}, "axis": {"values": [20, 40, 60], "format": "d", "title": null, "labelOverlap": false}}, "x2": {"datum": 77.6}, "y": {"datum": 0.05, "type": "quantitative", "scale": {"domain": [-0.09, 1], "nice": false, "zero": false}, "axis": {"values": [0, 0.2, 0.4, 0.6, 0.8, 1], "labelExpr": "datum.value==0?'0':format(datum.value,'.1f')", "title": null, "labelOverlap": false}}}},
  {"mark": {"type": "line", "strokeWidth": 1.3}, "encoding": {"color": {"field": "n", "type": "nominal", "scale": {"domain": [20, 40, 60, 100], "range": ["#1818c8", "#e030e0", "#dd1515", "#55b525"]}, "legend": null}}},
  {"mark": {"type": "point", "filled": true, "size": 20, "opacity": 1, "strokeWidth": 0.8}, "encoding": {
    "color": {"field": "n", "type": "nominal", "scale": {"domain": [20, 40, 60, 100], "range": ["#1818c8", "#e030e0", "#dd1515", "#66c22a"]}, "legend": null},
    "shape": {"field": "n", "type": "nominal", "scale": {"domain": [20, 40, 60, 100], "range": ["circle", "circle", "square", "square"]}, "legend": null},
    "stroke": {"field": "n", "type": "nominal", "scale": {"domain": [20, 40, 60, 100], "range": ["#0a0a80", "#800a80", "#800a0a", "#2c6a10"]}, "legend": null}}}
 ]
},
{
 "width": 194, "height": 155,
 "transform": [{"filter": "datum.r=='R'"}],
 "layer": [
  {"mark": {"type": "point", "strokeWidth": 1, "opacity": 1},
   "encoding": {
    "x": {"field": "i", "type": "quantitative", "scale": {"domain": [0, 0.6], "nice": false, "zero": false}, "axis": {"values": [0, 0.2, 0.4, 0.6], "labelExpr": "datum.value==0?'0':format(datum.value,'.1f')", "title": null}},
    "y": {"field": "p", "type": "quantitative", "scale": {"domain": [0, 0.59], "nice": false}, "axis": {"values": [0.2, 0.4, 0.59], "labelExpr": "datum.value>0.5?' ':format(datum.value,'.1f')", "title": "RIGHT"}},
    "stroke": {"field": "n", "type": "nominal", "scale": {"domain": [20, 40, 60, 100], "range": ["#2020d0", "#e030e0", "#e02828", "#22dd22"]}, "legend": null},
    "fill": {"field": "n", "type": "nominal", "scale": {"domain": [20, 40, 60, 100], "range": ["transparent", "transparent", "transparent", "#22dd22"]}, "legend": null},
    "shape": {"field": "n", "type": "nominal", "scale": {"domain": [20, 40, 60, 100], "range": ["circle", "M-1,-1L1,1M-1,1L1,-1", "square", "circle"]}, "legend": null},
    "size": {"field": "n", "type": "nominal", "scale": {"domain": [20, 40, 60, 100], "range": [20, 12, 16, 10]}, "legend": null}
   }},
  {"mark": {"type": "rule", "strokeDash": [4, 2], "color": "#555", "strokeWidth": 0.9},
   "encoding": {"y": {"datum": 0.05, "type": "quantitative", "title": "RIGHT"}}}
 ]
},
{
 "width": 201, "height": 159,
 "transform": [{"filter": "datum.r=='R'"}],
 "encoding": {
  "x": {"field": "c", "type": "quantitative", "scale": {"domain": [7.6, 77.6], "nice": false, "zero": false}, "axis": {"values": [20, 40, 60], "format": "d", "title": null}},
  "y": {"field": "i", "type": "quantitative", "scale": {"domain": [-0.09, 1], "nice": false, "zero": false}, "axis": {"values": [0, 0.2, 0.4, 0.6, 0.8, 1], "labelExpr": "datum.value==0?'0':format(datum.value,'.1f')", "title": null}}
 },
 "layer": [
  {"transform": [{"filter": "datum.n==20"}], "mark": {"type": "errorbar", "ticks": {"size": 6, "color": "#1c1cb4", "strokeWidth": 1.5}, "rule": {"color": "#8484e8", "strokeWidth": 2.2}}, "encoding": {"yError": {"field": "ie"}}},
  {"transform": [{"filter": "datum.n==40"}], "mark": {"type": "errorbar", "ticks": {"size": 6, "color": "#e850e8", "strokeWidth": 1.5}, "rule": {"color": "#f5a0f5", "strokeWidth": 2.2}}, "encoding": {"yError": {"field": "ie"}}},
  {"transform": [{"filter": "datum.n==60"}], "mark": {"type": "errorbar", "ticks": {"size": 5, "color": "#d81818", "strokeWidth": 1.3}, "rule": {"color": "#e03838", "strokeWidth": 1.2}}, "encoding": {"yError": {"field": "ie"}}},
  {"mark": {"type": "line", "strokeWidth": 1.3}, "encoding": {"color": {"field": "n", "type": "nominal", "scale": {"domain": [20, 40, 60, 100], "range": ["#1818c8", "#e030e0", "#dd1515", "#55b525"]}, "legend": null}}},
  {"mark": {"type": "point", "filled": true, "size": 20, "opacity": 1, "strokeWidth": 0.8}, "encoding": {
    "color": {"field": "n", "type": "nominal", "scale": {"domain": [20, 40, 60, 100], "range": ["#1818c8", "#e030e0", "#dd1515", "#66c22a"]}, "legend": null},
    "shape": {"field": "n", "type": "nominal", "scale": {"domain": [20, 40, 60, 100], "range": ["circle", "circle", "square", "square"]}, "legend": null},
    "stroke": {"field": "n", "type": "nominal", "scale": {"domain": [20, 40, 60, 100], "range": ["#0a0a80", "#800a80", "#800a0a", "#2c6a10"]}, "legend": null}}}
 ]
},
{
 "width": 202, "height": 159,
 "transform": [{"filter": "datum.r=='R'"}],
 "encoding": {
  "x": {"field": "c", "type": "quantitative", "scale": {"domain": [7.6, 77.6], "nice": false, "zero": false}, "axis": {"values": [20, 40, 60], "format": "d", "title": null, "labelOverlap": false}},
  "y": {"field": "p", "type": "quantitative", "scale": {"domain": [-0.09, 1], "nice": false, "zero": false}, "axis": {"values": [0, 0.2, 0.4, 0.6, 0.8, 1], "labelExpr": "datum.value==0?'0':format(datum.value,'.1f')", "title": null, "labelOverlap": false}}
 },
 "layer": [
  {"transform": [{"filter": "datum.n==20"}], "mark": {"type": "errorbar", "ticks": {"size": 6, "color": "#1c1cb4", "strokeWidth": 1.5}, "rule": {"color": "#8484e8", "strokeWidth": 2.2}}, "encoding": {"yError": {"field": "pe"}}},
  {"transform": [{"filter": "datum.n==40"}], "mark": {"type": "errorbar", "ticks": {"size": 6, "color": "#e850e8", "strokeWidth": 1.5}, "rule": {"color": "#f5a0f5", "strokeWidth": 2.2}}, "encoding": {"yError": {"field": "pe"}}},
  {"transform": [{"filter": "datum.n==60"}], "mark": {"type": "errorbar", "ticks": {"size": 5, "color": "#d81818", "strokeWidth": 1.3}, "rule": {"color": "#e03838", "strokeWidth": 1.2}}, "encoding": {"yError": {"field": "pe"}}},
  {"transform": [{"filter": "datum.n==20"}], "mark": {"type": "rule", "strokeDash": [4, 2], "color": "#555", "strokeWidth": 0.9}, "encoding": {"x": {"aggregate": "min", "field": "c", "type": "quantitative", "scale": {"domain": [7.6, 77.6], "nice": false, "zero": false}, "axis": {"values": [20, 40, 60], "format": "d", "title": null, "labelOverlap": false}}, "x2": {"datum": 77.6}, "y": {"datum": 0.05, "type": "quantitative", "scale": {"domain": [-0.09, 1], "nice": false, "zero": false}, "axis": {"values": [0, 0.2, 0.4, 0.6, 0.8, 1], "labelExpr": "datum.value==0?'0':format(datum.value,'.1f')", "title": null, "labelOverlap": false}}}},
  {"mark": {"type": "line", "strokeWidth": 1.3}, "encoding": {"color": {"field": "n", "type": "nominal", "scale": {"domain": [20, 40, 60, 100], "range": ["#1818c8", "#e030e0", "#dd1515", "#55b525"]}, "legend": null}}},
  {"mark": {"type": "point", "filled": true, "size": 20, "opacity": 1, "strokeWidth": 0.8}, "encoding": {
    "color": {"field": "n", "type": "nominal", "scale": {"domain": [20, 40, 60, 100], "range": ["#1818c8", "#e030e0", "#dd1515", "#66c22a"]}, "legend": null},
    "shape": {"field": "n", "type": "nominal", "scale": {"domain": [20, 40, 60, 100], "range": ["circle", "circle", "square", "square"]}, "legend": null},
    "stroke": {"field": "n", "type": "nominal", "scale": {"domain": [20, 40, 60, 100], "range": ["#0a0a80", "#800a80", "#800a0a", "#2c6a10"]}, "legend": null}}}
 ]
},
{
 "width": 194, "height": 155,
 "transform": [{"filter": "datum.r=='A'"}],
 "layer": [
  {"mark": {"type": "point", "strokeWidth": 1, "opacity": 1},
   "encoding": {
    "x": {"field": "i", "type": "quantitative", "scale": {"domain": [0, 0.6], "nice": false, "zero": false}, "axis": {"values": [0, 0.2, 0.4, 0.6], "labelExpr": "datum.value==0?'0':format(datum.value,'.1f')", "title": null}},
    "y": {"field": "p", "type": "quantitative", "scale": {"domain": [0, 0.59], "nice": false}, "axis": {"values": [0.2, 0.4, 0.59], "labelExpr": "datum.value>0.5?' ':format(datum.value,'.1f')", "title": "ALL"}},
    "stroke": {"field": "n", "type": "nominal", "scale": {"domain": [20, 40, 60, 100], "range": ["#2020d0", "#e030e0", "#e02828", "#22dd22"]}, "legend": {"orient": "top-right", "offset": 16, "title": null, "padding": 0, "labelExpr": "'#'+datum.label", "labelFontSize": 13, "labelOffset": 9, "rowPadding": 0, "symbolStrokeWidth": 1}},
    "fill": {"field": "n", "type": "nominal", "scale": {"domain": [20, 40, 60, 100], "range": ["transparent", "transparent", "transparent", "#22dd22"]}, "legend": {"orient": "top-right", "offset": 16, "title": null, "padding": 0, "labelExpr": "'#'+datum.label", "labelFontSize": 13, "labelOffset": 9, "rowPadding": 0, "symbolStrokeWidth": 1}},
    "shape": {"field": "n", "type": "nominal", "scale": {"domain": [20, 40, 60, 100], "range": ["circle", "M-1,-1L1,1M-1,1L1,-1", "square", "circle"]}, "legend": {"orient": "top-right", "offset": 16, "title": null, "padding": 0, "labelExpr": "'#'+datum.label", "labelFontSize": 13, "labelOffset": 9, "rowPadding": 0, "symbolStrokeWidth": 1}},
    "size": {"field": "n", "type": "nominal", "scale": {"domain": [20, 40, 60, 100], "range": [20, 12, 16, 10]}, "legend": {"orient": "top-right", "offset": 16, "title": null, "padding": 0, "labelExpr": "'#'+datum.label", "labelFontSize": 13, "labelOffset": 9, "rowPadding": 0, "symbolStrokeWidth": 1}}
   }},
  {"mark": {"type": "rule", "strokeDash": [4, 2], "color": "#555", "strokeWidth": 0.9},
   "encoding": {"y": {"datum": 0.05, "type": "quantitative", "title": "ALL"}}}
 ]
},
{
 "width": 201, "height": 159,
 "transform": [{"filter": "datum.r=='A'"}],
 "encoding": {
  "x": {"field": "c", "type": "quantitative", "scale": {"domain": [7.6, 77.6], "nice": false, "zero": false}, "axis": {"values": [20, 40, 60], "format": "d", "title": null}},
  "y": {"field": "i", "type": "quantitative", "scale": {"domain": [-0.09, 1], "nice": false, "zero": false}, "axis": {"values": [0, 0.2, 0.4, 0.6, 0.8, 1], "labelExpr": "datum.value==0?'0':format(datum.value,'.1f')", "title": null}}
 },
 "layer": [
  {"transform": [{"filter": "datum.n==20"}], "mark": {"type": "errorbar", "ticks": {"size": 6, "color": "#1c1cb4", "strokeWidth": 1.5}, "rule": {"color": "#8484e8", "strokeWidth": 2.2}}, "encoding": {"yError": {"field": "ie"}}},
  {"transform": [{"filter": "datum.n==40"}], "mark": {"type": "errorbar", "ticks": {"size": 6, "color": "#e850e8", "strokeWidth": 1.5}, "rule": {"color": "#f5a0f5", "strokeWidth": 2.2}}, "encoding": {"yError": {"field": "ie"}}},
  {"transform": [{"filter": "datum.n==60"}], "mark": {"type": "errorbar", "ticks": {"size": 5, "color": "#d81818", "strokeWidth": 1.3}, "rule": {"color": "#e03838", "strokeWidth": 1.2}}, "encoding": {"yError": {"field": "ie"}}},
  {"mark": {"type": "line", "strokeWidth": 1.3}, "encoding": {"color": {"field": "n", "type": "nominal", "scale": {"domain": [20, 40, 60, 100], "range": ["#1818c8", "#e030e0", "#dd1515", "#55b525"]}, "legend": null}}},
  {"mark": {"type": "point", "filled": true, "size": 20, "opacity": 1, "strokeWidth": 0.8}, "encoding": {
    "color": {"field": "n", "type": "nominal", "scale": {"domain": [20, 40, 60, 100], "range": ["#1818c8", "#e030e0", "#dd1515", "#66c22a"]}, "legend": null},
    "shape": {"field": "n", "type": "nominal", "scale": {"domain": [20, 40, 60, 100], "range": ["circle", "circle", "square", "square"]}, "legend": null},
    "stroke": {"field": "n", "type": "nominal", "scale": {"domain": [20, 40, 60, 100], "range": ["#0a0a80", "#800a80", "#800a0a", "#2c6a10"]}, "legend": null}}}
 ]
},
{
 "width": 202, "height": 159,
 "transform": [{"filter": "datum.r=='A'"}],
 "encoding": {
  "x": {"field": "c", "type": "quantitative", "scale": {"domain": [7.6, 77.6], "nice": false, "zero": false}, "axis": {"values": [20, 40, 60], "format": "d", "title": null, "labelOverlap": false}},
  "y": {"field": "p", "type": "quantitative", "scale": {"domain": [-0.09, 1], "nice": false, "zero": false}, "axis": {"values": [0, 0.2, 0.4, 0.6, 0.8, 1], "labelExpr": "datum.value==0?'0':format(datum.value,'.1f')", "title": null, "labelOverlap": false}}
 },
 "layer": [
  {"transform": [{"filter": "datum.n==20"}], "mark": {"type": "errorbar", "ticks": {"size": 6, "color": "#1c1cb4", "strokeWidth": 1.5}, "rule": {"color": "#8484e8", "strokeWidth": 2.2}}, "encoding": {"yError": {"field": "pe"}}},
  {"transform": [{"filter": "datum.n==40"}], "mark": {"type": "errorbar", "ticks": {"size": 6, "color": "#e850e8", "strokeWidth": 1.5}, "rule": {"color": "#f5a0f5", "strokeWidth": 2.2}}, "encoding": {"yError": {"field": "pe"}}},
  {"transform": [{"filter": "datum.n==60"}], "mark": {"type": "errorbar", "ticks": {"size": 5, "color": "#d81818", "strokeWidth": 1.3}, "rule": {"color": "#e03838", "strokeWidth": 1.2}}, "encoding": {"yError": {"field": "pe"}}},
  {"transform": [{"filter": "datum.n==20"}], "mark": {"type": "rule", "strokeDash": [4, 2], "color": "#555", "strokeWidth": 0.9}, "encoding": {"x": {"aggregate": "min", "field": "c", "type": "quantitative", "scale": {"domain": [7.6, 77.6], "nice": false, "zero": false}, "axis": {"values": [20, 40, 60], "format": "d", "title": null, "labelOverlap": false}}, "x2": {"datum": 77.6}, "y": {"datum": 0.05, "type": "quantitative", "scale": {"domain": [-0.09, 1], "nice": false, "zero": false}, "axis": {"values": [0, 0.2, 0.4, 0.6, 0.8, 1], "labelExpr": "datum.value==0?'0':format(datum.value,'.1f')", "title": null, "labelOverlap": false}}}},
  {"mark": {"type": "line", "strokeWidth": 1.3}, "encoding": {"color": {"field": "n", "type": "nominal", "scale": {"domain": [20, 40, 60, 100], "range": ["#1818c8", "#e030e0", "#dd1515", "#55b525"]}, "legend": null}}},
  {"mark": {"type": "point", "filled": true, "size": 20, "opacity": 1, "strokeWidth": 0.8}, "encoding": {
    "color": {"field": "n", "type": "nominal", "scale": {"domain": [20, 40, 60, 100], "range": ["#1818c8", "#e030e0", "#dd1515", "#66c22a"]}, "legend": null},
    "shape": {"field": "n", "type": "nominal", "scale": {"domain": [20, 40, 60, 100], "range": ["circle", "circle", "square", "square"]}, "legend": null},
    "stroke": {"field": "n", "type": "nominal", "scale": {"domain": [20, 40, 60, 100], "range": ["#0a0a80", "#800a80", "#800a0a", "#2c6a10"]}, "legend": null}}}
 ]
}
],
"config": {
 "font": "Liberation Sans",
 "view": {"stroke": "#8a8a8a", "strokeWidth": 1},
 "axis": {"labelFont": "Liberation Sans Narrow, Liberation Sans", "labelFontSize": 14, "labelColor": "#111", "labelOverlap": false, "tickColor": "#999", "tickSize": -4, "tickWidth": 1, "grid": false, "domain": false, "titleFont": "Liberation Serif", "titleFontSize": 17, "titleFontWeight": "normal", "titleColor": "#000", "titlePadding": 6},
 "axisX": {"labelPadding": 4, "labelFlush": false},
 "axisY": {"labelPadding": 4},
 "title": {"font": "Liberation Serif", "fontSize": 17, "fontWeight": "normal", "color": "#000", "offset": 6},
 "legend": {"labelFont": "Liberation Sans", "labelFontSize": 13, "labelColor": "#111"}
}
}
